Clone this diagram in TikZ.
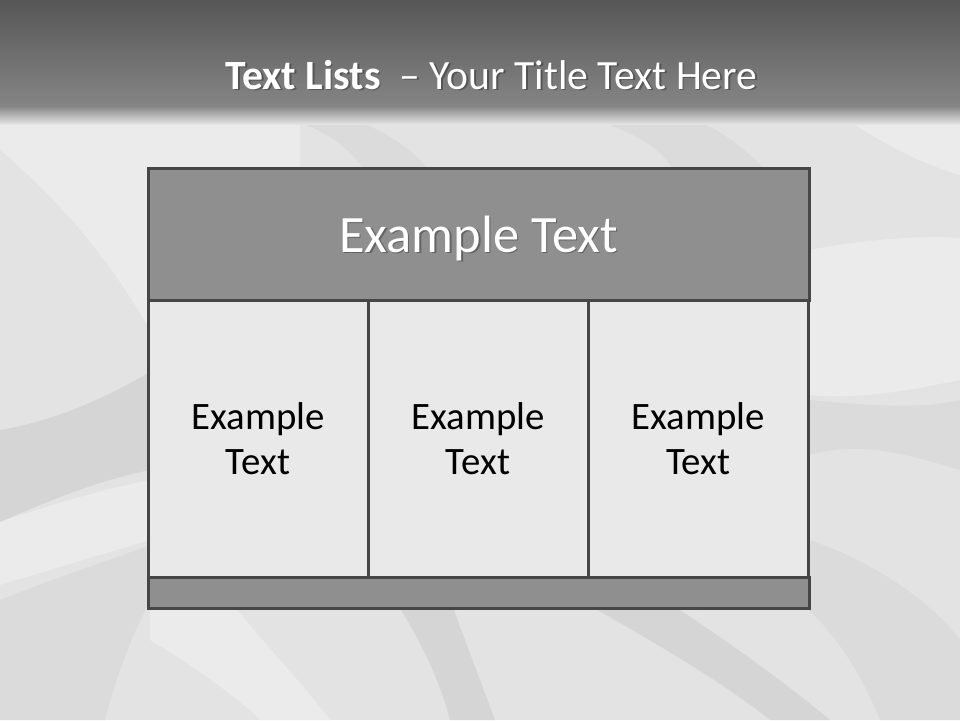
\documentclass[tikz,border=0pt]{standalone}
\usepackage{fontspec}
\setmainfont{Carlito}
\definecolor{bgbase}{HTML}{E3E3E3}
\definecolor{petaldark}{HTML}{D5D5D5}
\definecolor{petalmid}{HTML}{DBDBDB}
\definecolor{petallight}{HTML}{EBEBEB}
\definecolor{framecol}{HTML}{464646}
\definecolor{headfill}{HTML}{8F8F8F}
\definecolor{cellfill}{HTML}{E9E9E9}
\begin{document}
\begin{tikzpicture}[x=1pt,y=-1pt,
  frame/.style={draw=framecol,line width=3pt,inner sep=0pt,outer sep=0pt},
  headbox/.style={frame,fill=headfill,minimum width=661pt},
  cellbox/.style={frame,fill=cellfill,minimum width=220pt,minimum height=277pt,
     align=center,font=\fontsize{38.8}{45}\selectfont,text=black},
  whitetext/.style={text=white,inner sep=0pt},
  shadowtext/.style={text=black,opacity=0.3,inner sep=0pt}]
\useasboundingbox (0,0) rectangle (960,720);
% background
\fill[bgbase] (0,0) rectangle (960,720);
% petals (soft background)
\fill[petallight] (0,150) .. controls (60,200) and (110,260) .. (150,330) -- (300,330) -- (300,122) -- (0,122) -- cycle;
\fill[petaldark] (0,430) .. controls (60,420) and (110,395) .. (150,372) -- (300,372) -- (300,470) -- (150,470) .. controls (100,480) and (50,500) .. (0,522) -- cycle;
\fill[petallight] (0,522) .. controls (50,505) and (100,490) .. (150,480) -- (300,480) -- (300,540) -- (150,540) .. controls (100,555) and (50,570) .. (0,585) -- cycle;
\fill[petalmid] (0,600) .. controls (50,580) and (110,560) .. (150,545) -- (300,545) -- (300,600) -- (150,600) .. controls (130,640) and (115,680) .. (105,720) -- (0,720) -- cycle;
\fill[petallight] (150,640) .. controls (200,670) and (240,700) .. (260,720) -- (330,720) .. controls (300,680) and (260,640) .. (230,600) -- (150,600) -- cycle;
\fill[petaldark] (395,600) .. controls (420,640) and (440,680) .. (450,720) -- (495,720) .. controls (480,680) and (465,640) .. (450,600) -- cycle;
\fill[petaldark] (580,600) .. controls (650,640) and (720,680) .. (770,720) -- (830,720) .. controls (770,670) and (710,630) .. (665,600) -- cycle;
\fill[petalmid] (700,540) -- (809,540) .. controls (870,560) and (930,600) .. (960,640) -- (960,720) -- (880,720) .. controls (860,670) and (835,635) .. (809,610) -- (700,610) -- cycle;
\fill[petallight] (700,250) -- (809,250) .. controls (860,240) and (920,235) .. (960,238) -- (960,380) .. controls (910,390) and (860,400) .. (809,395) -- (700,395) -- cycle;
\fill[petalmid] (700,400) -- (809,400) .. controls (860,405) and (920,410) .. (960,400) -- (960,470) .. controls (910,455) and (860,440) .. (809,455) -- (700,455) -- cycle;
\fill[petalmid] (600,122) .. controls (640,135) and (670,150) .. (690,200) -- (790,200) .. controls (760,160) and (730,135) .. (700,122) -- cycle;
\fill[petalmid] (300,122) .. controls (330,135) and (360,150) .. (380,200) -- (450,200) .. controls (420,150) and (390,135) .. (360,122) -- cycle;
\fill[petallight] (850,122) .. controls (880,140) and (910,160) .. (960,175) -- (960,122) -- cycle;
% title bar
\fill[top color=black!66,bottom color=black!48] (0,0) rectangle (960,106);
\fill[top color=black!48,bottom color=bgbase] (0,106) rectangle (960,124);
% title
\node[shadowtext,anchor=base] at (493,90.5) {\fontsize{41.6}{46}\selectfont\textbf{Text Lists}\ \ – Your Title Text Here};
\node[whitetext,anchor=base] (title) at (491.5,89) {\fontsize{41.6}{46}\selectfont\textbf{Text Lists}\ \ – Your Title Text Here};
% table
\node[headbox,minimum height=132pt] (head) at (478.5,234) {};
\node[cellbox] (c1) at (258,438.5) {Example\\Text};
\node[cellbox] (c2) at (478,438.5) {Example\\Text};
\node[cellbox] (c3) at (698.5,438.5) {Example\\Text};
\node[headbox,minimum height=31pt] (foot) at (478.5,592.5) {};
\node[shadowtext,anchor=base] at (480,253.5) {\fontsize{52.5}{60}\selectfont Example Text};
\node[whitetext,anchor=base] (headtext) at (478.5,252) {\fontsize{52.5}{60}\selectfont Example Text};
\end{tikzpicture}
\end{document}
